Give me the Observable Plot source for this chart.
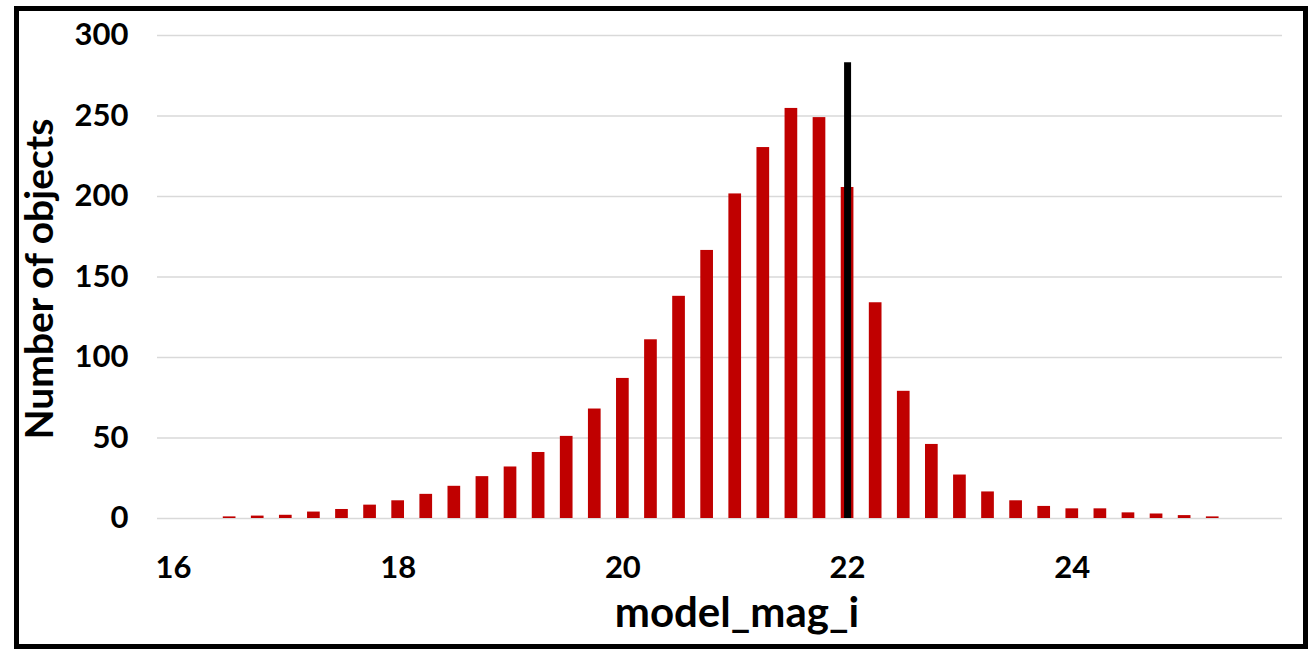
<!DOCTYPE html>
<html>
<head>
<meta charset="utf-8">
<script src="https://cdn.jsdelivr.net/npm/d3@7"></script>
<script src="https://cdn.jsdelivr.net/npm/@observablehq/plot@0.6"></script>
<style>
  html, body { margin: 0; padding: 0; background: #fff; }
  #wrap { position: relative; width: 1314px; height: 654px; overflow: hidden; }
  #frame { position: absolute; left: 14px; top: 6px; width: 1294px; height: 643px; box-sizing: border-box; border: 5px solid #000; pointer-events: none; }
  #chart svg { display: block; }
</style>
</head>
<body>
<div id="wrap">
  <div id="chart"></div>
  <div id="frame"></div>
</div>
<script>
// Bin centres (model_mag_i) and counts
const mags = [16.5, 16.75, 17, 17.25, 17.5, 17.75, 18, 18.25, 18.5, 18.75,
  19, 19.25, 19.5, 19.75, 20, 20.25, 20.5, 20.75, 21, 21.25,
  21.5, 21.75, 22, 22.25, 22.5, 22.75, 23, 23.25, 23.5, 23.75,
  24, 24.25, 24.5, 24.75, 25, 25.25];
const counts = [1, 1.5, 2, 4, 5.6, 8.3, 11, 15, 20, 26,
  32, 41, 51, 68, 87, 111, 138, 166.5, 201.6, 230.4,
  254.7, 249, 205.6, 134, 79, 46, 27, 16.5, 11, 7.5,
  6, 6, 3.5, 2.8, 1.8, 1];
const xTicks = [16, 18, 20, 22, 24];
const yTicks = [0, 50, 100, 150, 200, 250, 300];
const cutMag = [22];
const cutTop = [283];
const xLabel = "model_mag_i";
const yLabel = "Number of objects";

const bins = mags.map((m, i) => ({mag: m, count: counts[i]}));
const cut = cutMag.map((m, i) => ({mag: m, top: cutTop[i]}));
const binWidth = 0.25;

const font = "Lato, 'Open Sans', sans-serif";

const chart = Plot.plot({
  width: 1314,
  height: 654,
  marginLeft: 157,
  marginRight: 32,
  marginTop: 35,
  marginBottom: 136,
  style: {fontFamily: font, fontWeight: "bold", fontSize: "31px", color: "#000", background: "transparent", overflow: "visible"},
  x: {type: "linear", domain: [15.858, 25.871], ticks: xTicks, tickFormat: d => String(d)},
  y: {domain: [0, 300], ticks: yTicks},
  marks: [
    Plot.gridY(yTicks, {stroke: "#d9d9d9", strokeOpacity: 1, strokeWidth: 1.5}),
    Plot.rectY(bins, {
      x1: d => d.mag - binWidth / 2,
      x2: d => d.mag + binWidth / 2,
      y1: 0,
      y2: "count",
      insetLeft: 7.7,
      insetRight: 7.7,
      fill: "#C00000"
    }),
    Plot.ruleX(cut, {x: "mag", y1: 0, y2: "top", stroke: "#000", strokeWidth: 7}),
    Plot.axisX(xTicks, {tickSize: 0, tickPadding: 37, label: null, fontSize: 31, fontWeight: "bold"}),
    Plot.axisY(yTicks, {tickSize: 0, tickPadding: 29, label: null, fontSize: 31, fontWeight: "bold"}),
    Plot.text([xLabel], {frameAnchor: "bottom", lineAnchor: "middle", dy: 95, dx: 17, fontSize: 42, fontWeight: "bold", fill: "#000"}),
    Plot.text([yLabel], {frameAnchor: "left", lineAnchor: "middle", textAnchor: "middle", dx: -117, dy: 2, rotate: -90, fontSize: 39, fontWeight: "bold", fill: "#000"})
  ]
});
document.getElementById("chart").appendChild(chart);
</script>
</body>
</html>
